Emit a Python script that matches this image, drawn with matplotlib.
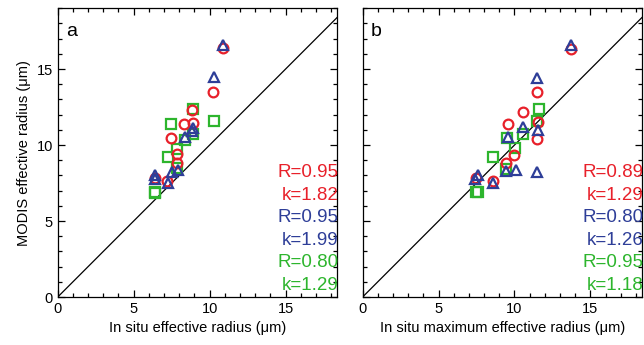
import matplotlib as mlp
mlp.use("Agg")
import matplotlib.pyplot as plt
from matplotlib.ticker import MultipleLocator

plt.rcParams['font.family'] = ['Liberation Sans', 'DejaVu Sans']

RED = "#e8202a"
BLUE = "#2e3e98"
GREEN = "#2db52d"

# panel a: in situ effective radius vs MODIS effective radius
a_red_x = [10.87, 10.25, 8.85, 8.93, 8.3, 7.48, 7.88, 7.88, 6.38, 7.22]
a_red_y = [16.36, 13.5, 12.3, 11.47, 11.4, 10.44, 9.4, 8.8, 7.8, 7.65]
a_blue_x = [10.87, 10.3, 8.9, 8.85, 8.35, 7.5, 7.95, 6.42, 6.38, 7.26]
a_blue_y = [16.6, 14.45, 11.1, 10.9, 10.55, 8.25, 8.35, 8.0, 7.76, 7.5]
a_green_x = [8.9, 10.3, 7.46, 8.93, 8.36, 7.88, 7.24, 7.88, 6.42, 6.38]
a_green_y = [12.4, 11.6, 11.4, 10.7, 10.33, 9.74, 9.23, 8.47, 6.9, 6.85]

# panel b: in situ maximum effective radius
b_red_x = [13.73, 11.49, 10.54, 9.57, 11.53, 11.49, 10.0, 9.44, 7.46, 8.56]
b_red_y = [16.3, 13.5, 12.2, 11.4, 11.5, 10.4, 9.34, 8.8, 7.8, 7.65]
b_blue_x = [13.73, 11.49, 10.56, 11.57, 9.6, 9.42, 10.1, 11.49, 7.57, 7.41, 8.58]
b_blue_y = [16.6, 14.4, 11.2, 11.0, 10.5, 8.3, 8.35, 8.2, 8.0, 7.76, 7.5]
b_green_x = [11.64, 11.49, 10.58, 9.53, 10.05, 8.6, 9.46, 7.48, 7.57]
b_green_y = [12.37, 11.6, 10.7, 10.44, 9.78, 9.23, 8.4, 6.9, 6.93]

a_stats = ["R=0.95", "k=1.82", "R=0.95", "k=1.99", "R=0.80", "k=1.29"]
b_stats = ["R=0.89", "k=1.29", "R=0.80", "k=1.26", "R=0.95", "k=1.18"]
stat_colors = [RED, RED, BLUE, BLUE, GREEN, GREEN]

fig = plt.figure(figsize=(6.44, 3.45), dpi=100)
ax_a = fig.add_axes([0.0896, 0.139, 0.434, 0.837])
ax_b = fig.add_axes([0.563, 0.139, 0.434, 0.837])

panels = [
	(ax_a, "a", a_red_x, a_red_y, a_blue_x, a_blue_y, a_green_x, a_green_y, a_stats,
	 "In situ effective radius (\u03bcm)"),
	(ax_b, "b", b_red_x, b_red_y, b_blue_x, b_blue_y, b_green_x, b_green_y, b_stats,
	 "In situ maximum effective radius (\u03bcm)"),
]

for ax, tag, rx, ry, bx, by, gx, gy, stats, xlabel in panels:
	ax.plot([0, 19], [0, 19], color="black", lw=0.9, zorder=1)
	mk = dict(ls="none", markersize=7, markeredgewidth=1.6, markerfacecolor="none")
	ax.plot(gx, gy, marker="s", markeredgecolor=GREEN, **mk)
	ax.plot(rx, ry, marker="o", markeredgecolor=RED, **mk)
	ax.plot(bx, by, marker="^", markeredgecolor=BLUE, **mk)
	ax.set_xlim(0, 18.4)
	ax.set_ylim(0, 19)
	ax.xaxis.set_major_locator(MultipleLocator(5))
	ax.yaxis.set_major_locator(MultipleLocator(5))
	ax.xaxis.set_minor_locator(MultipleLocator(1))
	ax.yaxis.set_minor_locator(MultipleLocator(1))
	ax.tick_params(which="both", direction="in", top=True, right=True, labelsize=10.5, width=0.9)
	ax.tick_params(which="major", length=5)
	ax.tick_params(which="minor", length=3.2)
	for sp in ax.spines.values():
		sp.set_linewidth(0.9)
	ax.set_xlabel(xlabel, fontsize=10.5)
	ax.text(0.03, 0.95, tag, transform=ax.transAxes, fontsize=14, va="top", ha="left")
	for i, (s, c) in enumerate(zip(stats, stat_colors)):
		ax.text(1.005, 0.43 - i * 0.0778, s, color=c, transform=ax.transAxes,
			fontsize=13.5, ha="right", va="center")

ax_a.set_ylabel("MODIS effective radius (\u03bcm)", fontsize=10.5)
ax_b.tick_params(labelleft=False)

plt.savefig("out.png", dpi=100)
